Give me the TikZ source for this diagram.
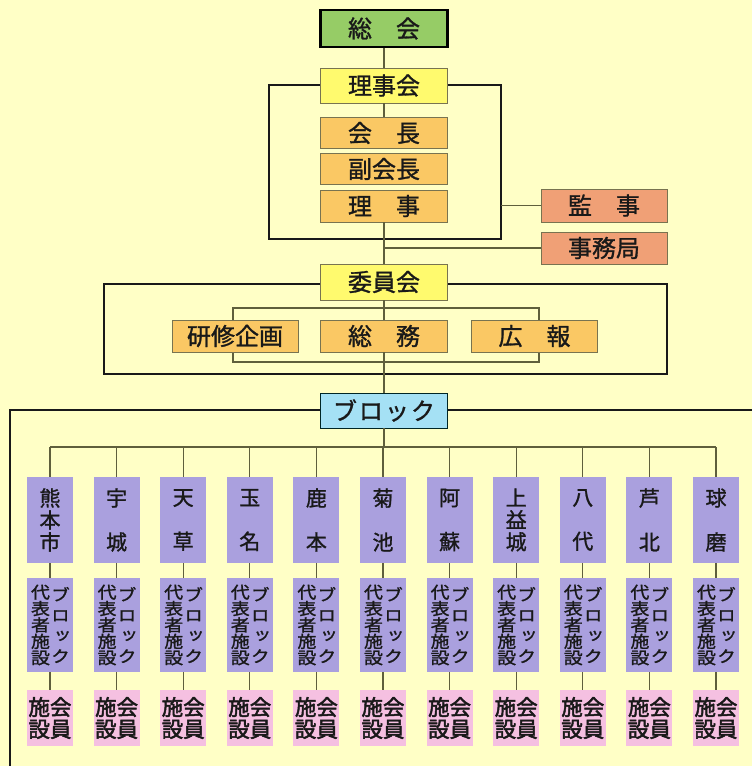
\documentclass[tikz,border=0pt]{standalone}
\usepackage{fontspec}
\newfontfamily\jp{Noto Sans CJK JP}[FakeBold=1.2]
\newfontfamily\jpb{Noto Sans CJK JP}[FakeBold=2.2]
\newfontfamily\jpv{Noto Sans CJK JP}[RawFeature=+vert, FakeBold=1.4, FakeStretch=1.15]
\usetikzlibrary{calc}
\definecolor{bg}{RGB}{255,255,198}
\definecolor{cgreen}{RGB}{150,204,102}
\definecolor{cyellow}{RGB}{255,250,110}
\definecolor{corange}{RGB}{250,200,100}
\definecolor{csalmon}{RGB}{240,160,118}
\definecolor{cblue}{RGB}{165,225,245}
\definecolor{cpurple}{RGB}{170,160,222}
\definecolor{cpink}{RGB}{245,192,225}
\definecolor{lnc}{RGB}{95,95,60}
\definecolor{bdc}{RGB}{120,115,80}
\definecolor{txt}{RGB}{25,25,25}
\tikzset{
  ln/.style={draw=lnc, line width=1.2pt},
  frm/.style={draw=black!90, line width=2.8pt},
  bx/.style={draw=bdc, line width=0.9pt, minimum width=127pt, minimum height=35pt, inner sep=0pt, text=txt, font=\jp\fontsize{24}{26}\selectfont},
  soukai/.style={bx, fill=cgreen, draw=black, line width=2.6pt, minimum height=37pt},
  ylw/.style={bx, fill=cyellow},
  org/.style={bx, fill=corange, minimum height=31pt},
  sal/.style={bx, fill=csalmon, minimum width=126pt, minimum height=33pt},
  blu/.style={bx, fill=cblue, draw=black!70!teal, minimum height=35pt},
  namebox/.style={fill=cpurple, minimum width=46pt, minimum height=86pt, inner sep=0pt, align=center, text=txt, font=\jp\fontsize{21}{22}\selectfont},
  repbox/.style={fill=cpurple, minimum width=46pt, minimum height=94pt, inner sep=0pt},
  vtl/.style={inner sep=0pt, align=center, text=txt, font=\jpv\fontsize{16.5}{16.4}\selectfont},
  vtr/.style={inner sep=0pt, align=center, text=txt, font=\jpv\fontsize{16.5}{20.5}\selectfont},
  membox/.style={fill=cpink, minimum width=46pt, minimum height=56pt, inner sep=0pt, align=center, text=txt, font=\jpb\fontsize{21.5}{22}\selectfont},
}
\begin{document}
\begin{tikzpicture}[x=1pt,y=-1pt]
\fill[bg] (0,0) rectangle (752,766);
\useasboundingbox (0,0) rectangle (752,766);
% frames
\draw[frm] (269,85) rectangle (501,239);
\draw[frm] (104,284) rectangle (667,374);
\coordinate (f3a) at (752,410);
\coordinate (f3b) at (10,410);
\coordinate (f3c) at (10,766);
\draw[frm] (f3a) -- (f3b) -- (f3c);
\draw[ln] (233,308) rectangle (539,362);
% coordinates
\coordinate (f1e) at (501,205.5);
\coordinate (dL) at (50,447);
\coordinate (dR) at (716,447);
% nodes
\node[soukai] (souk) at (384,28.5) {総　会};
\node[ylw] (riji) at (384,85.5) {理事会};
\node[org] (kaicho) at (384,133) {会　長};
\node[org] (fuku) at (384,169) {副会長};
\node[org, minimum height=32pt] (rijib) at (384,206) {理　事};
\node[ylw, minimum height=36pt] (iin) at (384,282) {委員会};
\node[sal] (kanji) at (604,205.5) {監　事};
\node[sal, minimum height=32pt] (jimu) at (604,248) {事務局};
\node[org, minimum width=126pt, minimum height=32pt] (kenshu) at (235,336) {研修企画};
\node[org, minimum height=32pt] (somu) at (384,336) {総　務};
\node[org, minimum width=126pt, minimum height=32pt] (koho) at (534.5,336) {広　報};
\node[blu] (block) at (384,410.5) {ブ\hspace{2pt}ロ\hspace{2pt}ッ\hspace{2pt}ク};
% main connectors
\draw[ln] (souk.south) -- (riji.north);
\draw[ln] (riji.south) -- (kaicho.north);
\draw[ln] (rijib.south) -- (iin.north);
\draw[ln] (iin.south) -- (somu.north);
\draw[ln] (somu.south) -- (block.north);
\draw[ln] (f1e) -- (kanji.west);
\draw[ln] (jimu.west) -- (jimu.west -| rijib.south);
\draw[ln] (dL) -- (dR);
\draw[ln] (block.south) -- (block.south |- dL);
% columns
\foreach \nm [count=\k from 0] in {{熊\\本\\市},{宇\\[22pt]城},{天\\[22pt]草},{玉\\[22pt]名},{鹿\\[22pt]本},{菊\\[22pt]池},{阿\\[22pt]蘇},{上\\益\\城},{八\\[22pt]代},{芦\\[22pt]北},{球\\[22pt]磨}}{
  \pgfmathsetmacro\cx{50+66.6*\k}
  \node[namebox] (n\k) at (\cx,520) {\nm};
  \node[repbox] (r\k) at (\cx,625) {};
  \node[vtl] (rl\k) at ($(r\k.center)+(-9.5,0)$) {代\\表\\者\\施\\設};
  \node[vtr] (rr\k) at ($(r\k.center)+(10.5,0)$) {ブ\\ロ\\ッ\\ク};
  \node[membox] (m\k) at (\cx,718) {施会\\設員};
  \draw[ln] (n\k.north |- dL) -- (n\k.north);
  \draw[ln] (n\k.south) -- (r\k.north);
  \draw[ln] (r\k.south) -- (m\k.north);
}
\end{tikzpicture}
\end{document}
